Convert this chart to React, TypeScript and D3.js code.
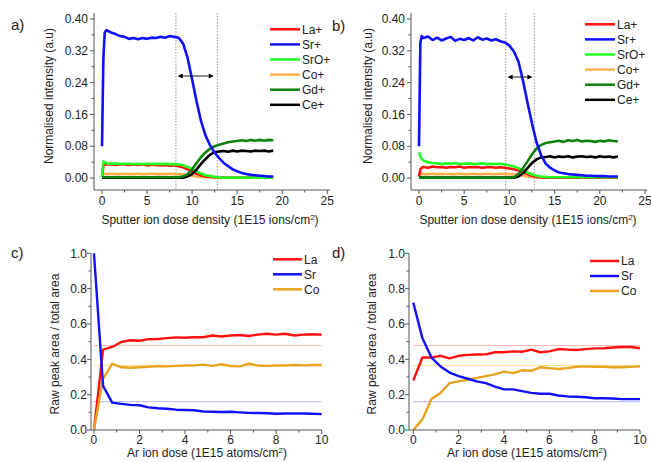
import React from 'react';
import * as d3 from 'd3';

const FONT = "'Liberation Sans', Arial, sans-serif";

// ---------- Panel a (ToF-SIMS depth profile) ----------
const doseA = [0, 0.15, 0.3, 0.5, 1, 1.5, 2, 2.5, 3, 3.5, 4, 4.5, 5, 5.5, 6, 6.5, 7, 7.5, 8, 8.5, 9, 9.5, 10, 10.5, 11, 11.5, 12, 12.5, 13, 13.5, 14, 14.5, 15, 15.5, 16, 16.5, 17, 17.5, 18, 18.5, 19];
const laA = [0.004, 0.03, 0.035, 0.034, 0.035, 0.033, 0.034, 0.035, 0.033, 0.034, 0.033, 0.034, 0.032, 0.033, 0.033, 0.032, 0.033, 0.031, 0.032, 0.03, 0.027, 0.022, 0.016, 0.011, 0.007, 0.004, 0.003, 0.002, 0.002, 0.001, 0.001, 0.001, 0.001, 0.001, 0.001, 0.001, 0.001, 0.001, 0.001, 0.001, 0.001];
const srA = [0.08, 0.3, 0.366, 0.372, 0.366, 0.362, 0.357, 0.355, 0.35, 0.352, 0.349, 0.352, 0.35, 0.353, 0.352, 0.355, 0.353, 0.357, 0.355, 0.353, 0.338, 0.302, 0.248, 0.192, 0.142, 0.106, 0.082, 0.064, 0.05, 0.038, 0.03, 0.022, 0.017, 0.013, 0.01, 0.008, 0.007, 0.006, 0.005, 0.004, 0.004];
const sroA = [0.003, 0.042, 0.04, 0.037, 0.036, 0.037, 0.035, 0.036, 0.036, 0.035, 0.036, 0.035, 0.036, 0.035, 0.036, 0.035, 0.036, 0.035, 0.035, 0.034, 0.032, 0.028, 0.023, 0.017, 0.011, 0.007, 0.005, 0.003, 0.002, 0.001, 0.001, 0.001, 0.001, 0.001, 0.001, 0.001, 0.001, 0.001, 0.001, 0.001, 0.001];
const coA = [0.002, 0.01, 0.011, 0.01, 0.011, 0.01, 0.01, 0.011, 0.01, 0.01, 0.011, 0.01, 0.01, 0.011, 0.01, 0.01, 0.01, 0.011, 0.01, 0.01, 0.009, 0.007, 0.005, 0.004, 0.003, 0.002, 0.002, 0.001, 0.001, 0.001, 0.001, 0.001, 0.001, 0.001, 0.001, 0.001, 0.001, 0.001, 0.001, 0.001, 0.001];
const gdA = [0.002, 0.002, 0.002, 0.002, 0.002, 0.002, 0.002, 0.002, 0.002, 0.002, 0.002, 0.002, 0.002, 0.002, 0.002, 0.002, 0.002, 0.002, 0.002, 0.002, 0.004, 0.01, 0.022, 0.038, 0.053, 0.065, 0.074, 0.08, 0.084, 0.087, 0.09, 0.092, 0.093, 0.095, 0.093, 0.096, 0.094, 0.096, 0.094, 0.096, 0.095];
const ceA = [0.001, 0.001, 0.001, 0.001, 0.001, 0.001, 0.001, 0.001, 0.001, 0.001, 0.001, 0.001, 0.001, 0.001, 0.001, 0.001, 0.001, 0.001, 0.001, 0.001, 0.001, 0.004, 0.01, 0.022, 0.036, 0.048, 0.059, 0.065, 0.067, 0.068, 0.066, 0.069, 0.067, 0.069, 0.068, 0.067, 0.069, 0.068, 0.069, 0.067, 0.069];
const markersA = [8.2, 12.8];

// ---------- Panel b ----------
const doseB = [0, 0.15, 0.3, 0.5, 1, 1.5, 2, 2.5, 3, 3.5, 4, 4.5, 5, 5.5, 6, 6.5, 7, 7.5, 8, 8.5, 9, 9.5, 10, 10.5, 11, 11.5, 12, 12.5, 13, 13.5, 14, 14.5, 15, 15.5, 16, 16.5, 17, 17.5, 18, 18.5, 19, 19.5, 20, 20.5, 21, 21.5, 22];
const laB = [0.004, 0.022, 0.026, 0.028, 0.026, 0.029, 0.027, 0.028, 0.026, 0.028, 0.027, 0.029, 0.026, 0.028, 0.027, 0.028, 0.026, 0.027, 0.028, 0.026, 0.027, 0.026, 0.024, 0.022, 0.019, 0.015, 0.01, 0.006, 0.003, 0.002, 0.001, 0.001, 0.001, 0.001, 0.001, 0.001, 0.001, 0.001, 0.001, 0.001, 0.001, 0.001, 0.001, 0.001, 0.001, 0.001, 0.001];
const srB = [0.08, 0.34, 0.357, 0.352, 0.356, 0.347, 0.353, 0.346, 0.351, 0.355, 0.345, 0.35, 0.347, 0.352, 0.346, 0.354, 0.348, 0.351, 0.346, 0.349, 0.344, 0.341, 0.333, 0.318, 0.293, 0.245, 0.19, 0.137, 0.09, 0.058, 0.037, 0.026, 0.019, 0.014, 0.012, 0.01, 0.009, 0.008, 0.007, 0.006, 0.006, 0.005, 0.005, 0.005, 0.004, 0.004, 0.004];
const sroB = [0.065, 0.055, 0.048, 0.044, 0.04, 0.038, 0.037, 0.035, 0.037, 0.036, 0.038, 0.035, 0.036, 0.037, 0.035, 0.036, 0.037, 0.035, 0.036, 0.035, 0.036, 0.034, 0.032, 0.029, 0.025, 0.02, 0.014, 0.009, 0.006, 0.004, 0.003, 0.002, 0.002, 0.002, 0.002, 0.002, 0.002, 0.002, 0.002, 0.002, 0.002, 0.002, 0.002, 0.002, 0.002, 0.002, 0.002];
const coB = [0.003, 0.01, 0.011, 0.01, 0.01, 0.011, 0.01, 0.01, 0.011, 0.01, 0.01, 0.011, 0.01, 0.01, 0.011, 0.01, 0.01, 0.011, 0.01, 0.01, 0.011, 0.01, 0.01, 0.009, 0.008, 0.006, 0.004, 0.003, 0.002, 0.001, 0.001, 0.001, 0.001, 0.001, 0.001, 0.001, 0.001, 0.001, 0.001, 0.001, 0.001, 0.001, 0.001, 0.001, 0.001, 0.001, 0.001];
const gdB = [0.001, 0.001, 0.001, 0.001, 0.001, 0.001, 0.001, 0.001, 0.001, 0.001, 0.001, 0.001, 0.001, 0.001, 0.001, 0.001, 0.001, 0.001, 0.001, 0.001, 0.001, 0.001, 0.001, 0.002, 0.01, 0.025, 0.042, 0.06, 0.074, 0.083, 0.088, 0.09, 0.092, 0.094, 0.091, 0.095, 0.093, 0.096, 0.092, 0.094, 0.093, 0.091, 0.094, 0.092, 0.095, 0.093, 0.092];
const ceB = [0.001, 0.001, 0.001, 0.001, 0.001, 0.001, 0.001, 0.001, 0.001, 0.001, 0.001, 0.001, 0.001, 0.001, 0.001, 0.001, 0.001, 0.001, 0.001, 0.001, 0.001, 0.001, 0.001, 0.001, 0.004, 0.012, 0.025, 0.038, 0.047, 0.052, 0.053, 0.055, 0.052, 0.054, 0.053, 0.055, 0.052, 0.054, 0.055, 0.053, 0.054, 0.052, 0.055, 0.053, 0.054, 0.052, 0.054];
const markersB = [9.6, 12.75];

// ---------- Panels c, d (XPS peak area ratios) ----------
const doseCD = [0, 0.4, 0.8, 1.2, 1.6, 2.0, 2.4, 2.8, 3.2, 3.6, 4.0, 4.4, 4.8, 5.2, 5.6, 6.0, 6.4, 6.8, 7.2, 7.6, 8.0, 8.4, 8.8, 9.2, 9.6, 10];
const laC = [0, 0.455, 0.47, 0.498, 0.508, 0.505, 0.514, 0.515, 0.52, 0.524, 0.522, 0.525, 0.525, 0.535, 0.529, 0.535, 0.538, 0.532, 0.54, 0.545, 0.54, 0.545, 0.535, 0.54, 0.542, 0.54];
const srC = [1.0, 0.25, 0.155, 0.148, 0.142, 0.14, 0.128, 0.123, 0.12, 0.115, 0.113, 0.112, 0.105, 0.103, 0.102, 0.103, 0.1, 0.097, 0.096, 0.095, 0.092, 0.093, 0.094, 0.093, 0.092, 0.09];
const coC = [0, 0.29, 0.375, 0.355, 0.352, 0.355, 0.358, 0.362, 0.36, 0.363, 0.365, 0.366, 0.37, 0.363, 0.372, 0.362, 0.36, 0.375, 0.365, 0.363, 0.366, 0.365, 0.368, 0.366, 0.368, 0.368];
const laD = [0.28, 0.41, 0.41, 0.42, 0.405, 0.42, 0.425, 0.427, 0.428, 0.44, 0.44, 0.445, 0.443, 0.455, 0.44, 0.445, 0.458, 0.455, 0.453, 0.458, 0.462, 0.463, 0.467, 0.47, 0.47, 0.463];
const srD = [0.72, 0.52, 0.41, 0.36, 0.325, 0.305, 0.29, 0.275, 0.265, 0.245, 0.23, 0.23, 0.22, 0.21, 0.205, 0.205, 0.195, 0.19, 0.188, 0.185, 0.18, 0.18, 0.178, 0.175, 0.175, 0.175];
const coD = [0, 0.06, 0.175, 0.21, 0.265, 0.275, 0.285, 0.295, 0.305, 0.315, 0.33, 0.322, 0.338, 0.335, 0.355, 0.35, 0.345, 0.35, 0.358, 0.36, 0.358, 0.358, 0.355, 0.355, 0.357, 0.36];
const refLevels = [0.478, 0.365, 0.16];

const ticksAB = [0, 5, 10, 15, 20, 25];
const minorAB = [2.5, 7.5, 12.5, 17.5, 22.5];
const yTicksAB = [0, 0.08, 0.16, 0.24, 0.32, 0.4];
const yMinorAB = [0.04, 0.12, 0.2, 0.28, 0.36];
const ticksCD = [0, 2, 4, 6, 8, 10];
const minorCD = [1, 3, 5, 7, 9];
const yTicksCD = [0, 0.2, 0.4, 0.6, 0.8, 1.0];
const yMinorCD = [0.1, 0.3, 0.5, 0.7, 0.9];

const ionNames = ['La+', 'Sr+', 'SrO+', 'Co+', 'Gd+', 'Ce+'];
const ionColors = ['#ff1010', '#1010ff', '#22ff22', '#ffb04a', '#0c820c', '#000000'];
const elemNames = ['La', 'Sr', 'Co'];
const elemColors = ['#ff1010', '#1010ff', '#e8a420'];
const refColors = ['#ffb4b4', '#ffe08c', '#b4b4ff'];

type Sc = d3.ScaleLinear<number, number>;

function Axes(props: {
  x: Sc; y: Sc; xt: number[]; xm: number[]; yt: number[]; ym: number[];
  yfmt: (v: number) => string; xLabelDy: number; yLabelX: number;
}) {
  const { x, y, xt, xm, yt, ym, yfmt, xLabelDy, yLabelX } = props;
  const [x0, x1] = x.range();
  const [yb, yt0] = y.range();
  const ax = '#555';
  return (
    <g>
      <line x1={x0} x2={x0} y1={yb} y2={yt0} stroke={ax} strokeWidth={1} />
      <line x1={x0} x2={x1} y1={yb} y2={yb} stroke={ax} strokeWidth={1} />
      {xt.map((v) => (
        <g key={'xt' + v}>
          <line x1={x(v)} x2={x(v)} y1={yb} y2={yb + 4} stroke={ax} />
          <text x={x(v)} y={yb + xLabelDy} textAnchor="middle" fontSize={12} fill="#222" fontFamily={FONT}>{v}</text>
        </g>
      ))}
      {xm.map((v) => (
        <line key={'xm' + v} x1={x(v)} x2={x(v)} y1={yb} y2={yb + 2.5} stroke={ax} />
      ))}
      {yt.map((v) => (
        <g key={'yt' + v}>
          <line x1={x0} x2={x0 - 4} y1={y(v)} y2={y(v)} stroke={ax} />
          <text x={yLabelX} y={y(v)} dy="0.35em" textAnchor="end" fontSize={12} fill="#222" fontFamily={FONT}>{yfmt(v)}</text>
        </g>
      ))}
      {ym.map((v) => (
        <line key={'ym' + v} x1={x0} x2={x0 - 2.5} y1={y(v)} y2={y(v)} stroke={ax} />
      ))}
    </g>
  );
}

function Legend(props: { names: string[]; colors: string[]; x: number; y: number; dy: number; len: number }) {
  const { names, colors, x, y, dy, len } = props;
  return (
    <g>
      {names.map((n, i) => (
        <g key={n}>
          <line x1={x} x2={x + len} y1={y + i * dy} y2={y + i * dy} stroke={colors[i]} strokeWidth={2.5} />
          <text x={x + len + 2} y={y + i * dy} dy="0.36em" fontSize={12} fill="#222" fontFamily={FONT}>{n}</text>
        </g>
      ))}
    </g>
  );
}

function Arrow(props: { x1: number; x2: number; y: number }) {
  const { x1, x2, y } = props;
  return (
    <g>
      <line x1={x1 + 3} x2={x2 - 3} y1={y} y2={y} stroke="#000" strokeWidth={0.9} />
      <path d={`M${x1},${y} L${x1 + 5},${y - 2.5} L${x1 + 5},${y + 2.5} Z`} fill="#000" />
      <path d={`M${x2},${y} L${x2 - 5},${y - 2.5} L${x2 - 5},${y + 2.5} Z`} fill="#000" />
    </g>
  );
}

function ProfilePanel(props: {
  x: Sc; y: Sc; dose: number[]; series: number[][]; markers: number[];
  arrow: [number, number]; arrowY: number; legendX: number; legendY: number;
  label: string; labelX: number; labelY: number; yTitleX: number; yLabelX: number; xTitleX: number;
}) {
  const { x, y, dose, series, markers, arrow, arrowY, legendX, legendY, label, labelX, labelY, yTitleX, yLabelX, xTitleX } = props;
  const order = [3, 0, 2, 5, 4, 1];
  const [yb, ytop] = y.range();
  const yMid = 96;
  return (
    <g>
      <text x={labelX} y={labelY} fontSize={15} fill="#222" fontFamily={FONT}>{label}</text>
      {markers.map((m) => (
        <line key={m} x1={x(m)} x2={x(m)} y1={ytop} y2={yb} stroke="#888" strokeWidth={0.9} strokeDasharray="1.5,1.5" />
      ))}
      {order.map((si) => {
        const line = d3.line<number>().x((_, i) => x(dose[i])).y((v) => y(v));
        return <path key={si} d={line(series[si]) || ''} fill="none" stroke={ionColors[si]} strokeWidth={2.6} strokeLinejoin="round" />;
      })}
      <Arrow x1={x(arrow[0])} x2={x(arrow[1])} y={arrowY} />
      <Axes x={x} y={y} xt={ticksAB} xm={minorAB} yt={yTicksAB} ym={yMinorAB} yfmt={(v) => v.toFixed(2)} xLabelDy={15} yLabelX={yLabelX} />
      <text x={xTitleX} y={224} textAnchor="middle" fontSize={12} fill="#222" fontFamily={FONT}>
        Sputter ion dose density (1E15 ions/cm<tspan dy={-4} fontSize={8}>2</tspan><tspan dy={4}>)</tspan>
      </text>
      <text transform={`translate(${yTitleX},${yMid}) rotate(-90)`} textAnchor="middle" fontSize={12} fill="#222" fontFamily={FONT}>
        Normalised intensity (a.u)
      </text>
      <Legend names={ionNames} colors={ionColors} x={legendX} y={legendY} dy={15.1} len={30} />
    </g>
  );
}

function RatioPanel(props: {
  x: Sc; y: Sc; series: number[][]; label: string; labelX: number; labelY: number;
  legendX: number; legendY: number; yTitleX: number; yLabelX: number; xTitleX: number;
}) {
  const { x, y, series, label, labelX, labelY, legendX, legendY, yTitleX, yLabelX, xTitleX } = props;
  return (
    <g>
      <text x={labelX} y={labelY} fontSize={15} fill="#222" fontFamily={FONT}>{label}</text>
      {refLevels.map((r, i) => (
        <line key={r} x1={x(0)} x2={x(10)} y1={y(r)} y2={y(r)} stroke={refColors[i]} strokeWidth={1} />
      ))}
      {[0, 2, 1].map((si) => {
        const line = d3.line<number>().x((_, i) => x(doseCD[i])).y((v) => y(v));
        return <path key={si} d={line(series[si]) || ''} fill="none" stroke={elemColors[si]} strokeWidth={2.4} strokeLinejoin="round" />;
      })}
      <Axes x={x} y={y} xt={ticksCD} xm={minorCD} yt={yTicksCD} ym={yMinorCD} yfmt={(v) => v.toFixed(1)} xLabelDy={14} yLabelX={yLabelX} />
      <text x={xTitleX} y={457} textAnchor="middle" fontSize={12} fill="#222" fontFamily={FONT}>
        Ar ion dose (1E15 atoms/cm<tspan dy={-4} fontSize={8}>2</tspan><tspan dy={4}>)</tspan>
      </text>
      <text transform={`translate(${yTitleX},${344}) rotate(-90)`} textAnchor="middle" fontSize={12} fill="#222" fontFamily={FONT}>
        Raw peak area / total area
      </text>
      <Legend names={elemNames} colors={elemColors} x={legendX} y={legendY} dy={15} len={29} />
    </g>
  );
}

export default function App() {
  const xA = d3.scaleLinear().domain([-0.89, 25.3]).range([94, 330]);
  const yA = d3.scaleLinear().domain([-0.03, 0.415]).range([190, 13]);
  const xB = d3.scaleLinear().domain([-0.885, 25.22]).range([411, 647]);
  const yB = d3.scaleLinear().domain([-0.03, 0.415]).range([190, 13]);
  const xC = d3.scaleLinear().domain([-0.13, 10]).range([91, 321.7]);
  const yC = d3.scaleLinear().domain([0, 1]).range([430, 253.3]);
  const xD = d3.scaleLinear().domain([-0.19, 10]).range([409, 640]);
  const yD = d3.scaleLinear().domain([0, 1]).range([430, 253.3]);

  return (
    <svg width={651} height={462} viewBox="0 0 651 462"
      style={{ position: 'absolute', left: 0, top: 0, background: '#fff', display: 'block' }}>
      <rect width={651} height={462} fill="#fff" />
      <ProfilePanel x={xA} y={yA} dose={doseA} series={[laA, srA, sroA, coA, gdA, ceA]} markers={markersA}
        arrow={[8.4, 12.4]} arrowY={76} legendX={270} legendY={29.3} label="a)" labelX={11} labelY={30}
        yTitleX={53} yLabelX={88} xTitleX={210} />
      <ProfilePanel x={xB} y={yB} dose={doseB} series={[laB, srB, sroB, coB, gdB, ceB]} markers={markersB}
        arrow={[9.8, 12.55]} arrowY={77} legendX={585} legendY={24.3} label="b)" labelX={332} labelY={31}
        yTitleX={372} yLabelX={405} xTitleX={528} />
      <RatioPanel x={xC} y={yC} series={[laC, srC, coC]} label="c)" labelX={11} labelY={258}
        legendX={273} legendY={259.3} yTitleX={59} yLabelX={87} xTitleX={207} />
      <RatioPanel x={xD} y={yD} series={[laD, srD, coD]} label="d)" labelX={332} labelY={258}
        legendX={590} legendY={261} yTitleX={376} yLabelX={405} xTitleX={527} />
    </svg>
  );
}
